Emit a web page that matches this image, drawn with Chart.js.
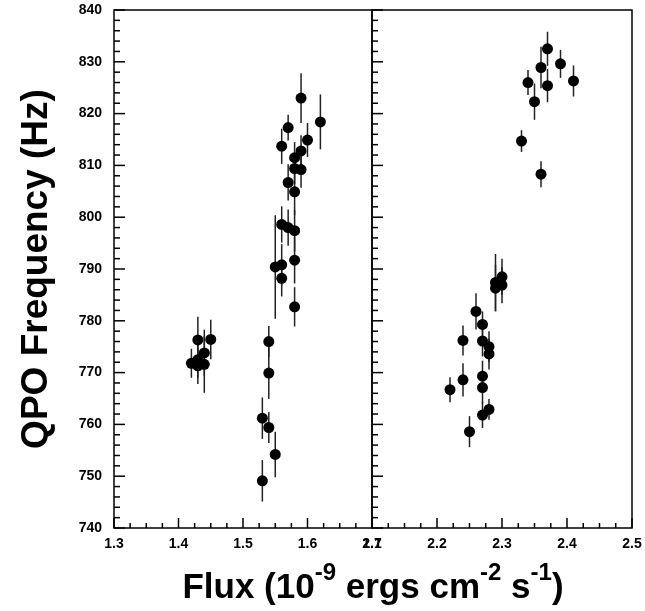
<!DOCTYPE html>
<html>
<head>
<meta charset="utf-8">
<title>QPO frequency vs flux</title>
<script src="https://cdn.jsdelivr.net/npm/chart.js@4.4.1/dist/chart.umd.min.js"></script>
<style>
  html, body { margin: 0; padding: 0; background: #fff; }
  #wrap { position: relative; width: 645px; height: 611px; overflow: hidden; }
  #leftChart { position: absolute; left: 0; top: 0; }
  #rightChart { position: absolute; left: 345px; top: 0; }
  #xTitle {
    position: absolute; left: 114px; top: 566px; width: 518px; height: 40px;
    line-height: 40px; text-align: center; white-space: nowrap; color: #000;
    font: bold 35px "Liberation Sans", Arial, sans-serif;
  }
  #xTitle sup { font-size: 24px; line-height: 0; vertical-align: 18px; }
</style>
</head>
<body>
<div id="wrap">
  <canvas id="leftChart" width="400" height="560"></canvas>
  <canvas id="rightChart" width="300" height="560"></canvas>
  <div id="xTitle">Flux (10<sup>-9</sup> ergs cm<sup>-2</sup> s<sup>-1</sup>)</div>
</div>
<script>
// Left panel: flux 1.3 - 1.7
const fluxLow = [1.42, 1.43, 1.43, 1.43, 1.44, 1.44, 1.45,
  1.53, 1.53, 1.54, 1.54, 1.54, 1.55, 1.55,
  1.56, 1.56, 1.56, 1.56, 1.57, 1.57, 1.57,
  1.58, 1.58, 1.58, 1.58, 1.58, 1.58,
  1.59, 1.59, 1.59, 1.60, 1.62];
const qpoLow = [771.8, 776.3, 772.5, 771.3, 773.8, 771.6, 776.4,
  761.2, 749.1, 776.0, 769.9, 759.4, 790.4, 754.2,
  813.7, 798.6, 790.8, 788.2, 817.3, 806.7, 798.0,
  811.5, 809.4, 804.9, 797.4, 791.7, 782.7,
  823.0, 812.8, 809.2, 814.9, 818.4];
const errLow = [2.8, 4.5, 3.5, 3.5, 4.5, 5.5, 3.8,
  4.0, 4.0, 3.0, 5.0, 3.0, 10.0, 4.4,
  3.4, 3.5, 4.0, 3.5, 2.5, 3.5, 3.5,
  3.0, 3.0, 4.5, 4.0, 4.5, 3.8,
  4.8, 3.0, 3.5, 3.3, 5.3];

// Right panel: flux 2.1 - 2.5
const fluxHigh = [2.22, 2.24, 2.24, 2.25, 2.26, 2.27, 2.27, 2.27, 2.27, 2.27,
  2.28, 2.28, 2.28, 2.29, 2.29, 2.30, 2.30,
  2.33, 2.34, 2.35, 2.36, 2.36, 2.37, 2.37, 2.39, 2.41];
const qpoHigh = [766.7, 776.2, 768.6, 758.6, 781.8, 779.3, 776.1, 769.3, 767.1, 761.8,
  775.0, 773.6, 762.9, 787.4, 786.3, 788.5, 786.9,
  814.7, 826.0, 822.3, 828.9, 808.3, 832.5, 825.4, 829.6, 826.3];
const errHigh = [2.4, 2.9, 3.2, 3.0, 3.5, 2.5, 3.0, 3.0, 3.0, 2.5,
  3.0, 3.0, 2.0, 5.5, 4.5, 3.5, 3.5,
  2.1, 2.4, 3.5, 4.0, 2.5, 3.3, 3.2, 2.7, 3.0];

const qpoRange = [740, 840];
const fluxRangeLow = [1.3, 1.7];
const fluxRangeHigh = [2.1, 2.5];

const FONT = '"Liberation Sans", Arial, Helvetica, sans-serif';

// error bars under the markers, ticks inside the frame, frame on top
const frameTicks = {
  id: 'frameTicks',
  beforeDatasetsDraw(chart, args, opts) {
    const {ctx, chartArea: a, scales: {x, y}} = chart;
    const pts = chart.data.datasets[0].data;
    ctx.save();
    ctx.beginPath();
    ctx.rect(a.left, a.top, a.right - a.left, a.bottom - a.top);
    ctx.clip();
    ctx.strokeStyle = '#222';
    ctx.lineWidth = 1.5;
    pts.forEach((p, i) => {
      const px = x.getPixelForValue(p.x);
      ctx.beginPath();
      ctx.moveTo(px, y.getPixelForValue(p.y - opts.err[i]));
      ctx.lineTo(px, y.getPixelForValue(p.y + opts.err[i]));
      ctx.stroke();
    });
    ctx.restore();
  },
  afterDraw(chart) {
    const {ctx, chartArea: a, scales: {x, y}} = chart;
    ctx.save();
    ctx.strokeStyle = '#000';
    ctx.lineWidth = 1.5;
    // y ticks: major every 10, minor every 2
    for (let v = y.min; v <= y.max + 1e-6; v += 2) {
      const py = y.getPixelForValue(v);
      const len = Math.round(v - y.min) % 10 === 0 ? 11 : 6;
      ctx.beginPath();
      ctx.moveTo(a.left, py);
      ctx.lineTo(a.left + len, py);
      ctx.stroke();
    }
    // x ticks: major every 0.1, minor every 0.025
    const n = Math.round((x.max - x.min) / 0.025);
    for (let i = 0; i <= n; i++) {
      const px = x.getPixelForValue(x.min + i * 0.025);
      const len = i % 4 === 0 ? 10 : 5;
      ctx.beginPath();
      ctx.moveTo(px, a.bottom);
      ctx.lineTo(px, a.bottom - len);
      ctx.stroke();
    }
    ctx.strokeRect(a.left, a.top, a.right - a.left, a.bottom - a.top);
    ctx.restore();
  }
};

function tickFont() {
  return { family: FONT, size: 14, weight: 'bold' };
}

function makePanel(canvasId, flux, qpo, err, xRange, showY) {
  return new Chart(document.getElementById(canvasId), {
    type: 'scatter',
    data: {
      datasets: [{
        data: flux.map((f, i) => ({ x: f, y: qpo[i] })),
        backgroundColor: '#000',
        borderWidth: 0,
        pointRadius: 5.5,
        pointHoverRadius: 5.5
      }]
    },
    options: {
      responsive: false,
      animation: false,
      events: [],
      layout: {
        padding: showY ? { top: 10, right: 28, left: 0, bottom: 0 }
                       : { top: 10, right: 13, left: 27, bottom: 0 }
      },
      plugins: {
        legend: { display: false },
        tooltip: { enabled: false },
        frameTicks: { err: err }
      },
      scales: {
        x: {
          type: 'linear',
          min: xRange[0],
          max: xRange[1],
          afterFit: s => {
            s.height = 32;
            s.paddingLeft = 0;
            s.paddingRight = 0;
          },
          grid: { display: false, drawTicks: false },
          border: { display: false },
          ticks: {
            stepSize: 0.1,
            padding: 8,
            color: '#000',
            font: tickFont(),
            maxRotation: 0,
            callback: v => v.toFixed(1)
          }
        },
        y: {
          type: 'linear',
          min: qpoRange[0],
          max: qpoRange[1],
          display: showY,
          afterFit: s => {
            if (showY) s.width = 114;
            s.paddingTop = 0;
            s.paddingBottom = 0;
          },
          grid: { display: false, drawTicks: false },
          border: { display: false },
          title: {
            display: showY,
            text: 'QPO Frequency (Hz)',
            color: '#000',
            font: { family: FONT, size: 37, weight: 'bold' },
            padding: { top: 15, bottom: 0 }
          },
          ticks: {
            stepSize: 10,
            padding: 12,
            color: '#000',
            font: tickFont(),
            callback: v => String(Math.round(v))
          }
        }
      }
    },
    plugins: [frameTicks]
  });
}

makePanel('leftChart', fluxLow, qpoLow, errLow, fluxRangeLow, true);
makePanel('rightChart', fluxHigh, qpoHigh, errHigh, fluxRangeHigh, false);
</script>
</body>
</html>
